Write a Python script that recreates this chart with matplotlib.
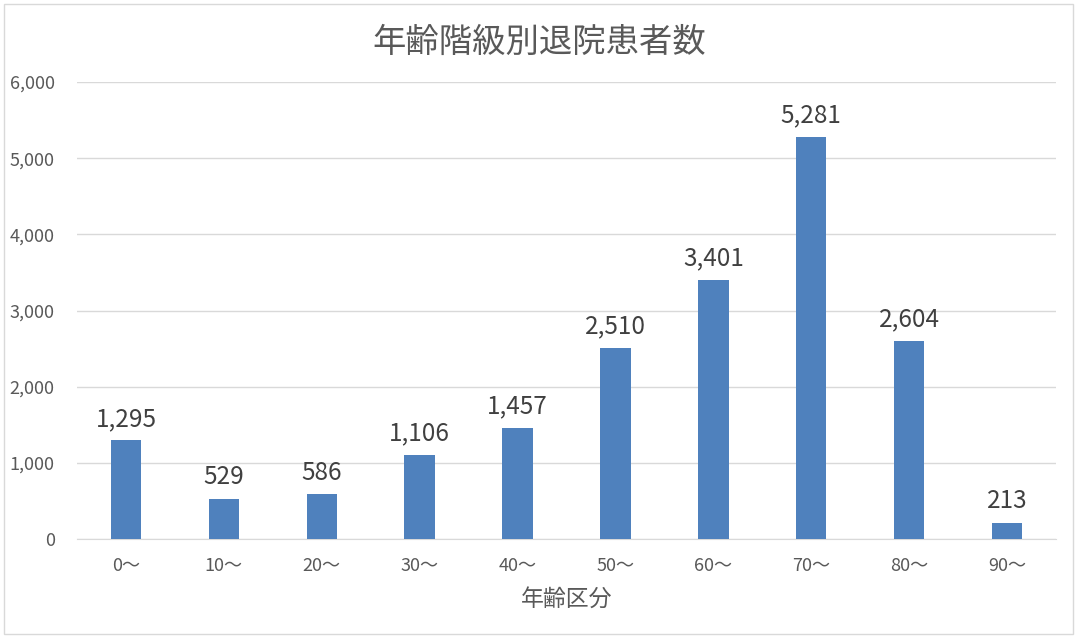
import matplotlib
matplotlib.use("Agg")
import matplotlib.pyplot as plt
from matplotlib.patches import Rectangle
from matplotlib.ticker import FuncFormatter
import numpy as np

plt.rcParams['font.family'] = ['Noto Sans CJK JP', 'DejaVu Sans']

categories = ["0～", "10～", "20～", "30～", "40～", "50～", "60～", "70～", "80～", "90～"]
patients = [1295, 529, 586, 1106, 1457, 2510, 3401, 5281, 2604, 213]

title = "年齢階級別退院患者数"
xlabel = "年齢区分"

BAR = "#4F81BD"
GRID = "#D9D9D9"
TEXT = "#595959"

fig = plt.figure(figsize=(10.78, 6.38), dpi=100)
fig.patches.append(Rectangle((4 / 1078, 4 / 638), 1069 / 1078, 630 / 638,
                             transform=fig.transFigure, fill=False,
                             edgecolor=GRID, lw=1))

ax = fig.add_axes([77 / 1078, 1 - 539 / 638, 979 / 1078, 457 / 638])
xs = np.arange(len(categories))
bars = ax.bar(xs, patients, width=0.31, color=BAR, zorder=3)

for x, v in zip(xs, patients):
    ax.annotate(f"{v:,}", (x, v), xytext=(0, 6), textcoords="offset points",
                ha="center", va="bottom", fontsize=17.5, color="#404040")

ax.set_xlim(-0.5, len(categories) - 0.5)
ax.set_ylim(0, 6000)
ax.set_yticks(np.arange(0, 6001, 1000))
ax.yaxis.set_major_formatter(FuncFormatter(lambda v, p: f"{int(v):,}"))
ax.set_xticks(xs, categories)
ax.grid(axis="y", color=GRID, lw=1, zorder=0)
for s in ["top", "right", "left"]:
    ax.spines[s].set_visible(False)
ax.spines["bottom"].set_color(GRID)
ax.tick_params(length=0, labelsize=13, colors=TEXT)
ax.tick_params(axis="x", pad=13)
ax.tick_params(axis="y", pad=16)

ax.set_xlabel(xlabel, fontsize=16.5, color=TEXT, labelpad=9)
fig.text(0.5, 1 - 42 / 638, title, ha="center", va="center", fontsize=24, color=TEXT)

fig.savefig("out.png", dpi=100)
